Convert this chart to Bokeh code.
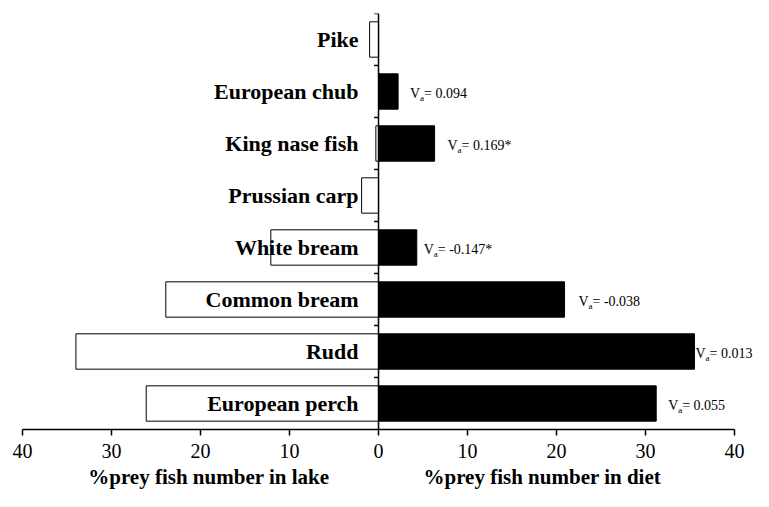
from bokeh.plotting import figure
from bokeh.models import Range1d, FixedTicker, Span, ColumnDataSource
from bokeh.embed import file_html
from bokeh.resources import INLINE
from bokeh.core.properties import value

# bottom -> top
species = ["European perch", "Rudd", "Common bream", "White bream",
           "Prussian carp", "King nase fish", "European chub", "Pike"]
lake_pct = [26.1, 34.0, 23.9, 12.1, 1.9, 0.3, 0.0, 1.0]
diet_pct = [31.2, 35.5, 20.9, 4.3, 0.0, 6.3, 2.2, 0.0]
va_values = ["0.055", "0.013", "-0.038", "-0.147*", None, "0.169*", "0.094", None]
tick_values = [-40, -30, -20, -10, 0, 10, 20, 30, 40]
tick_labels = ["40", "30", "20", "10", "0", "10", "20", "30", "40"]
title_lake = "%prey fish number in lake"
title_diet = "%prey fish number in diet"

# styling: pixel gap between bar end and annotation
va_gap = [12, 1, 14, 7, 0, 13, 12, 0]

FONT = "Liberation Serif"
NB = "\u00a0"

p = figure(width=753, height=491, x_range=Range1d(-40, 42.13), y_range=Range1d(-0.5, 7.5),
           output_backend="svg", toolbar_location=None, y_axis_location=None,
           min_border_left=22, min_border_right=0, min_border_top=13, min_border_bottom=62)
p.xgrid.visible = False
p.ygrid.visible = False
p.outline_line_color = None
p.background_fill_color = "white"

ax = p.xaxis[0]
ax.ticker = FixedTicker(ticks=tick_values)
ax.major_label_overrides = {t: l for t, l in zip(tick_values, tick_labels)}
ax.bounds = (-40, 40)
ax.axis_line_width = 1.5
ax.axis_line_color = "black"
ax.major_tick_line_width = 1.5
ax.major_tick_line_color = "black"
ax.major_tick_in = 0
ax.major_tick_out = 6
ax.minor_tick_line_color = None
ax.major_label_text_font = FONT
ax.major_label_text_font_size = "20px"
ax.major_label_text_color = "black"
ax.major_label_standoff = 8
ax.axis_label = title_lake + NB * 18 + title_diet + NB * 5
ax.axis_label_text_font = FONT
ax.axis_label_text_font_style = "bold"
ax.axis_label_text_font_size = "21px"
ax.axis_label_text_color = "black"
ax.axis_label_standoff = 4

idx = list(range(len(species)))
src = ColumnDataSource(dict(y=idx, lake_left=[-v for v in lake_pct], diet=diet_pct, name=species))

p.hbar(y="y", left="lake_left", right=0, height=0.68, fill_color="white",
       line_color="black", line_width=1, source=src)
p.hbar(y="y", left=0, right="diet", height=0.68, fill_color="black",
       line_color="black", line_width=1, source=src)

p.add_layout(Span(location=0, dimension="height", line_color="black", line_width=1.5))
bounds_y = [i + 0.5 for i in idx]
p.segment(x0=[-0.5] * len(bounds_y), x1=[0] * len(bounds_y), y0=bounds_y, y1=bounds_y,
          line_color="black", line_width=1.5)

p.text(x=0, y="y", text="name", source=src, x_offset=-20, text_align="right",
       text_baseline="middle", text_font=value(FONT), text_font_style="bold",
       text_font_size="22px", text_color="black")

vx, vy, vt, g1, g2, g3 = [], [], [], [], [], []
for i, v in enumerate(va_values):
    if v is None:
        continue
    vx.append(diet_pct[i]); vy.append(i); vt.append("= " + v)
    g1.append(va_gap[i]); g2.append(va_gap[i] + 10); g3.append(va_gap[i] + 14)
vsrc = ColumnDataSource(dict(x=vx, y=vy, t=vt, g1=g1, g2=g2, g3=g3,
                             V=["V"] * len(vx), a=["a"] * len(vx)))
p.text(x="x", y="y", text="V", x_offset="g1", y_offset=2, source=vsrc, text_align="left",
       text_baseline="middle", text_font=value(FONT), text_font_size="14px", text_color="black")
p.text(x="x", y="y", text="a", x_offset="g2", y_offset=6, source=vsrc, text_align="left",
       text_baseline="middle", text_font=value(FONT), text_font_size="9px", text_color="black")
p.text(x="x", y="y", text="t", x_offset="g3", y_offset=2, source=vsrc, text_align="left",
       text_baseline="middle", text_font=value(FONT), text_font_size="14px", text_color="black")

open("out.html", "w").write(file_html(p, INLINE))
